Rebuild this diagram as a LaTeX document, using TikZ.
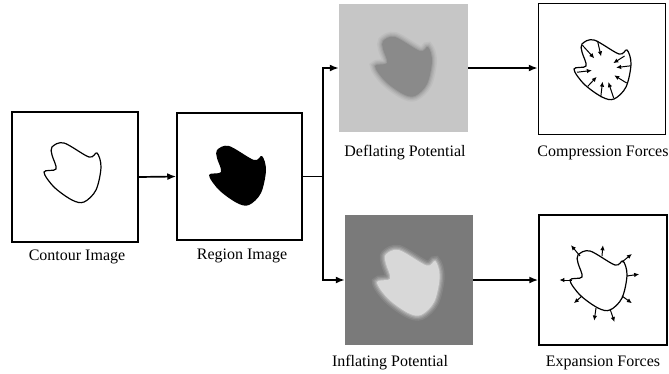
\documentclass[tikz,border=0pt]{standalone}
\usepackage{fontspec}
\setmainfont{Liberation Serif}
\usetikzlibrary{arrows.meta,calc}

\definecolor{deflbg}{HTML}{C6C6C6}
\definecolor{deflfg}{HTML}{8A8A8A}
\definecolor{inflbg}{HTML}{7A7A7A}
\definecolor{inflfg}{HTML}{D8D8D8}

\tikzset{
  imgbox/.style={draw=black, line width=1.5pt, fill=white, inner sep=0pt},
  caption/.style={font=\fontsize{16}{19}\selectfont, inner sep=0pt},
  flow/.style={line width=1.7pt, -{Latex[length=9pt,width=7pt]}},
  force/.style={line width=1pt, -{Latex[length=5pt,width=4.5pt]}},
  blob/.pic={
    \path[pic actions] plot[smooth cycle, tension=0.55] coordinates
      {(-22,-25) (-10,-29) (15,-15) (23,-19) (27,-5) (22,18) (10,30) (-2,28)
       (-20,15) (-30,0) (-18,-3) (-22,-17)};
  },
  % a soft-edged filled blob: widening translucent rims of the fill colour
  softblob/.pic={
    \foreach \w/\o in {10/0.12, 7/0.18, 4.5/0.25, 2/0.4}{
      \path[draw=softcol, line width=\w pt, draw opacity=\o] plot[smooth cycle, tension=0.55] coordinates
        {(-22,-25) (-10,-29) (15,-15) (23,-19) (27,-5) (22,18) (10,30) (-2,28)
         (-20,15) (-30,0) (-18,-3) (-22,-17)};
    }
    \path[fill=softcol] plot[smooth cycle, tension=0.55] coordinates
      {(-22,-25) (-10,-29) (15,-15) (23,-19) (27,-5) (22,18) (10,30) (-2,28)
       (-20,15) (-30,0) (-18,-3) (-22,-17)};
  }
}

\begin{document}
\begin{tikzpicture}[x=1pt, y=-1pt]
  \useasboundingbox (0,0) rectangle (669,373);

  % image panels
  \node[imgbox, minimum width=126pt, minimum height=130pt] (contour) at (75,177) {};
  \node[imgbox, minimum width=125pt, minimum height=127pt] (region) at (239.5,176.5) {};
  \node[fill=deflbg, minimum width=129pt, minimum height=128pt, inner sep=0pt] (deflate) at (403.5,68) {};
  \node[imgbox, minimum width=127pt, minimum height=131pt] (compress) at (602,69) {};
  \node[fill=inflbg, minimum width=128pt, minimum height=130pt, inner sep=0pt] (inflate) at (409,280) {};
  \node[imgbox, minimum width=128pt, minimum height=130pt] (expand) at (603,280) {};

  % captions
  \node[caption] (lcontour) at (77,257) {Contour Image};
  \node[caption] (lregion) at (242,256) {Region Image};
  \node[caption] (ldeflate) at (405,153) {Deflating Potential};
  \node[caption] (lcompress) at (603,153) {Compression Forces};
  \node[caption] (linflate) at (390,363) {Inflating Potential};
  \node[caption] (lexpand) at (603,363) {Expansion Forces};

  % contour and region
  \pic[draw=black, line width=1.2pt] at (74,172) {blob};
  \pic[fill=black] at (239,175) {blob};

  % deflating potential: darker shape with a soft rim
  \colorlet{softcol}{deflfg}
  \pic at (405,66) {softblob};

  % inflating potential: brighter shape with a soft rim
  \colorlet{softcol}{inflfg}
  \pic[scale=1.1] at (410,282) {softblob};

  % compression forces: inward arrows
  \coordinate (cc) at (604,69);
  \begin{scope}[shift={(cc)}, scale=1.08]
    \pic[draw=black, line width=1.2pt] at (0,0) {blob};
    \foreach \px/\py in {-20/-22, -6/-26, 19/-12, 25/-3, 21/13, 9/27, -3/26, -15/16, -25/3}{
      \draw[force] (\px,\py) -- ($(0,0)!0.45!(\px,\py)$);
    }
  \end{scope}

  % expansion forces: outward arrows
  \coordinate (ec) at (600,280);
  \begin{scope}[shift={(ec)}]
    \pic[draw=black, line width=1.2pt] at (0,0) {blob};
    \foreach \px/\py in {-20/-24, 2/-24, 22/-18, 27/-4, 22/16, 10/29, -4/28, -18/16, -28/0}{
      \draw[force] (\px,\py) -- ($(0,0)!1.45!(\px,\py)$);
    }
  \end{scope}

  % flow connectors
  \draw[flow] (contour.east) -- (region.west);
  \coordinate (split) at (323,176.5);
  \draw[line width=1.7pt] (region.east) -- (split);
  \draw[flow] (split) |- (deflate.west);
  \draw[flow] (split) |- (inflate.west);
  \draw[flow] (deflate.east) -- (compress.west |- deflate.east);
  \draw[flow] (inflate.east) -- (expand.west);
\end{tikzpicture}
\end{document}
